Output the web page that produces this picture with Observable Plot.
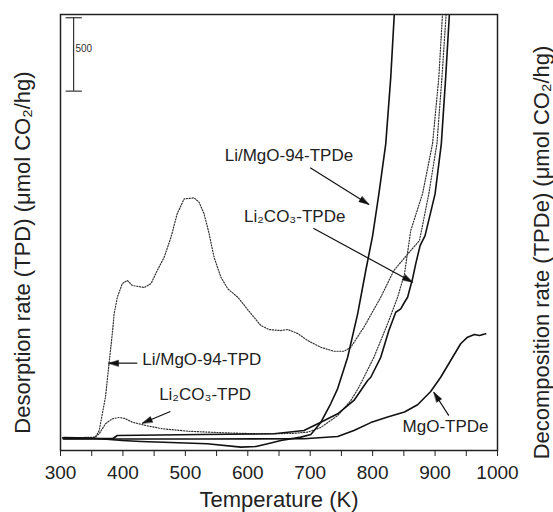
<!DOCTYPE html>
<html><head><meta charset="utf-8">
<script src="https://cdn.jsdelivr.net/npm/d3@7"></script>
<script src="https://cdn.jsdelivr.net/npm/@observablehq/plot@0.6"></script>
<style>body{margin:0;background:#fff}</style>
</head><body><div id="chart"></div>
<script>
// ---- data (Temperature K, rate in μmol CO2/hg, arbitrary offset) ----
const liMgoTpdT = [303,332,356,362,372,378,383,386,391,399,407,415,434,445,455,466,477,487,498,514,522,530,538,546,557,568,584,605,621,634,653,664,680,696,717,738,754,765,786,813,834,845,861,875,890,903,911,918];
const liMgoTpdV = [88,88,91,136,363,601,797,933,1044,1137,1158,1124,1110,1137,1226,1316,1453,1614,1714,1721,1691,1612,1478,1316,1180,1101,1044,933,851,824,817,824,797,749,703,676,676,703,840,1044,1226,1282,1362,1430,1750,2091,2540,2990];

const li2co3TpdT = [303,351,362,372,383,394,403,415,437,463,506,560,613,669,696,717,744,765,778,802,824,840,851,861,880,896,906,912];
const li2co3TpdV = [80,80,114,182,216,225,218,193,170,148,131,121,114,116,125,157,238,340,431,635,863,1044,1203,1498,1750,2091,2540,2980];

const liMgoTpdeT = [305,348,399,429,477,535,589,613,632,653,685,701,717,733,744,760,776,789,800,810,821,829,835];
const liMgoTpdeV = [88,85,68,61,54,46,23,27,46,68,91,109,191,320,422,635,931,1226,1464,1748,2089,2542,2996];

const li2co3TpdeT = [305,384,391,525,642,690,717,744,770,792,797,813,826,837,845,851,856,861,864,869,876,884,900,910,917,923];
const li2co3TpdeV = [82,82,102,109,114,136,193,250,341,477,499,635,817,942,965,1010,1044,1124,1171,1271,1396,1464,1748,2089,2542,2976];

const mgoTpdeT = [305,525,690,744,770,797,824,851,872,893,909,925,941,952,963,971,981];
const mgoTpdeV = [78,78,80,95,136,190,228,262,312,402,499,613,727,772,790,783,795];

const xTicks = [300,350,400,450,500,550,600,650,700,750,800,850,900,950,1000];

// annotations
const labelText = ["Li/MgO-94-TPDe","Li\u2082CO\u2083-TPDe","Li/MgO-94-TPD","Li\u2082CO\u2083-TPD","MgO-TPDe"];
const labelX = [563,594,431,458,848];
const labelY = [2009,1594,621,378,163];

const arrowX1 = [700,705,423,476,922];
const arrowY1 = [1926,1514,595,266,238];
const arrowX2 = [794,864,377,431,898];
const arrowY2 = [1676,1146,595,186,397];

const scaleBarX = 321;
const scaleBarY = [2448,2948];
const scaleBarCapX = [309,335];
const scaleBarLabel = "500";

// ---- layout ----
const W = 553, H = 512, mL = 60, mR = 56, mT = 14, mB = 62;
const xDomain = [300,1000], yDomain = [0,2970];
const kx = (W - mL - mR) / (xDomain[1] - xDomain[0]);
const ky = (H - mT - mB) / (yDomain[1] - yDomain[0]);

const series = (T, V) => T.map((t, i) => ({t, v: V[i]}));
const dotted = [series(liMgoTpdT, liMgoTpdV), series(li2co3TpdT, li2co3TpdV)];
const solid = [series(liMgoTpdeT, liMgoTpdeV), series(li2co3TpdeT, li2co3TpdeV), series(mgoTpdeT, mgoTpdeV)];

const labels = labelText.map((s, i) => ({s, x: labelX[i], y: labelY[i]}));
const arrows = arrowX1.map((x1, i) => ({x1, y1: arrowY1[i], x2: arrowX2[i], y2: arrowY2[i]}));

// arrowhead polygons (in data units, from pixel geometry)
const heads = [];
arrows.forEach((a, i) => {
  const dx = (a.x2 - a.x1) * kx, dy = -(a.y2 - a.y1) * ky;
  const len = Math.hypot(dx, dy), ux = dx / len, uy = dy / len;
  const L = 10, Wd = 3;
  const pts = [[0, 0], [-ux * L - uy * Wd, -uy * L + ux * Wd], [-ux * L + uy * Wd, -uy * L - ux * Wd]];
  pts.forEach(([px, py]) => heads.push({id: i, x: a.x2 + px / kx, y: a.y2 - py / ky}));
});

const lineMarks = [];
dotted.forEach(d => lineMarks.push(Plot.line(d, {x: "t", y: "v", stroke: "#333", strokeWidth: 1.2, strokeDasharray: "1.2 1.6", clip: true})));
solid.forEach(d => lineMarks.push(Plot.line(d, {x: "t", y: "v", stroke: "#111", strokeWidth: 1.6, clip: true})));

const chart = Plot.plot({
  width: W, height: H,
  marginLeft: mL, marginRight: mR, marginTop: mT, marginBottom: mB,
  x: {domain: xDomain, ticks: xTicks, tickFormat: d => (d % 100 === 0 ? String(d) : ""), tickSize: 6, tickPadding: 9, label: null},
  y: {domain: yDomain, axis: null},
  style: {fontFamily: "'Liberation Sans', Arial, sans-serif", fontSize: "19px", color: "#222", background: "white", overflow: "visible"},
  marks: [
    ...lineMarks,
    Plot.link(arrows, {x1: "x1", y1: "y1", x2: "x2", y2: "y2", stroke: "#111", strokeWidth: 1.2}),
    Plot.line(heads, {x: "x", y: "y", z: "id", fill: "#111", stroke: "#111", strokeWidth: 0.5, curve: "linear-closed"}),
    Plot.text(labels, {x: "x", y: "y", text: "s", textAnchor: "start", fontSize: 17, fill: "#222"}),
    Plot.ruleX([scaleBarX], {x: d => d, y1: scaleBarY[0], y2: scaleBarY[1], stroke: "#333", strokeWidth: 1.2}),
    Plot.ruleY(scaleBarY, {y: d => d, x1: scaleBarCapX[0], x2: scaleBarCapX[1], stroke: "#333", strokeWidth: 1.2}),
    Plot.text([scaleBarLabel], {x: scaleBarX + 3, y: (scaleBarY[0] + scaleBarY[1]) / 2 + 40, text: d => d, textAnchor: "start", fontSize: 10, fill: "#333"}),
    Plot.frame({stroke: "#222", strokeWidth: 1.5}),
    Plot.text(["Temperature (K)"], {frameAnchor: "bottom", lineAnchor: "middle", dy: 49, text: d => d, fontSize: 22, fill: "#222"}),
    Plot.text(["Desorption rate (TPD) (\u03bcmol CO\u2082/hg)"], {frameAnchor: "left", textAnchor: "middle", lineAnchor: "middle", rotate: -90, dx: -38, dy: 20, text: d => d, fontSize: 22, fill: "#222"}),
    Plot.text(["Decomposition rate (TPDe) (\u03bcmol CO\u2082/hg)"], {frameAnchor: "right", textAnchor: "middle", lineAnchor: "middle", rotate: -90, dx: 44, dy: 20, text: d => d, fontSize: 22, fill: "#222"})
  ]
});
document.getElementById("chart").appendChild(chart);
</script>
</body></html>
